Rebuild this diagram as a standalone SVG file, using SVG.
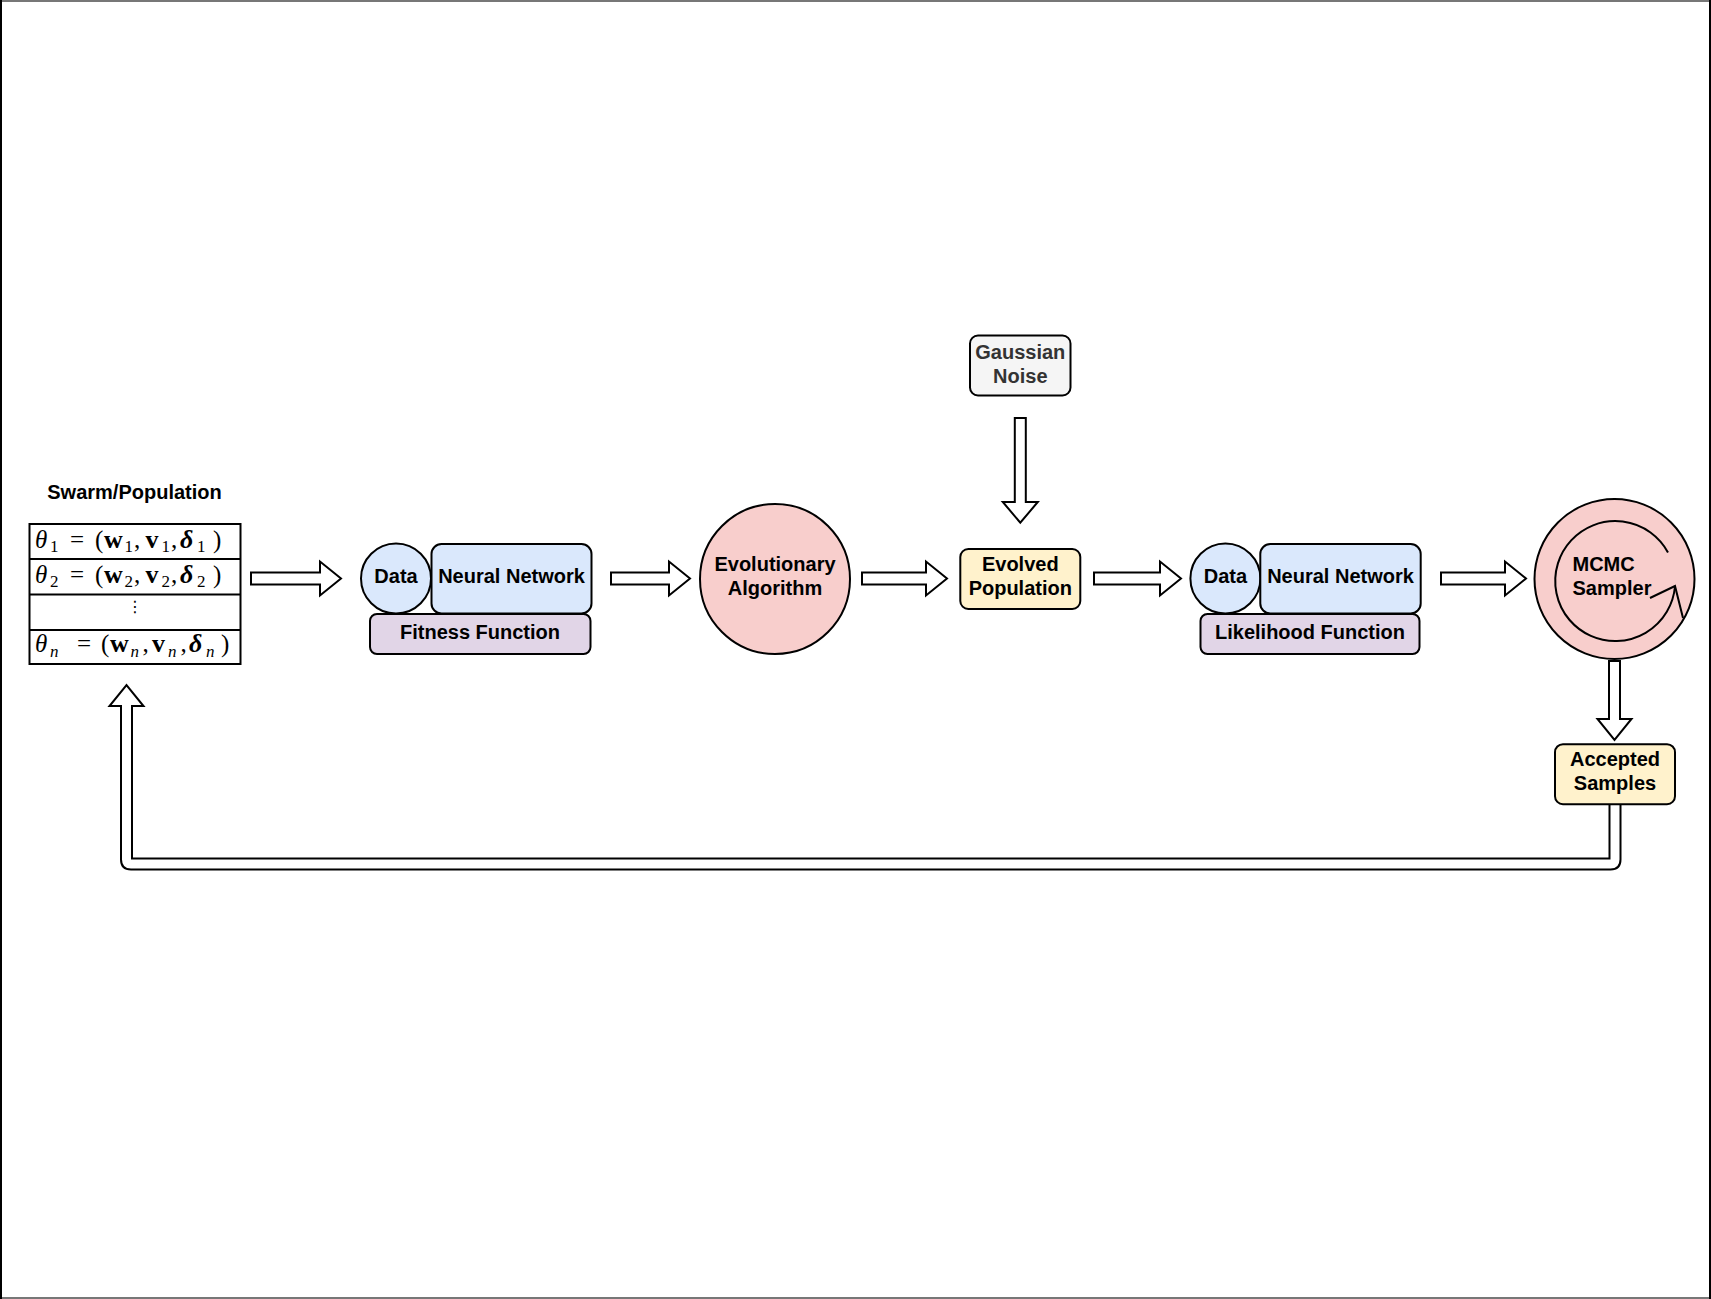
<svg xmlns="http://www.w3.org/2000/svg" width="1711" height="1299" viewBox="0 0 1711 1299">
<style>
.t{font-family:"Liberation Sans",Arial,Helvetica,sans-serif;font-size:20px;font-weight:bold;fill:#000;text-anchor:middle}
.ts{text-anchor:start}
.tg{fill:#333333}
.nd{stroke:#000;stroke-width:2}
.blue{fill:#dae8fc}
.purple{fill:#e1d5e7}
.pink{fill:#f8cecc}
.yellow{fill:#fff2cc}
.grey{fill:#f5f5f5}
.arr{fill:#fff;stroke:#000;stroke-width:2;stroke-linejoin:miter}
.ln{fill:none;stroke:#000;stroke-width:2}
.m{font-family:"Liberation Serif","Times New Roman",serif;font-size:25px;fill:#000}
.s{font-size:17px}
.b{font-weight:bold;font-size:26px}
.i{font-style:italic}
</style>
<rect x="0" y="0" width="1711" height="1299" fill="#fff"/>
<g id="frame">
<line x1="0" y1="1" x2="1711" y2="1" stroke="#777" stroke-width="2"/>
<line x1="0" y1="1298" x2="1711" y2="1298" stroke="#777" stroke-width="2"/>
<line x1="1" y1="0" x2="1" y2="1299" stroke="#000" stroke-width="2"/>
<line x1="1710" y1="0" x2="1710" y2="1299" stroke="#000" stroke-width="2"/>
</g>
<g id="connectors">
<path class="arr" d="M251 572.5 L320 572.5 L320 561.5 L341 578.5 L320 595.5 L320 584.5 L251 584.5 Z"/>
<path class="arr" d="M611 572.5 L669 572.5 L669 561.5 L690 578.5 L669 595.5 L669 584.5 L611 584.5 Z"/>
<path class="arr" d="M862 572.5 L926 572.5 L926 561.5 L947 578.5 L926 595.5 L926 584.5 L862 584.5 Z"/>
<path class="arr" d="M1094 572.5 L1160 572.5 L1160 561.5 L1181 578.5 L1160 595.5 L1160 584.5 L1094 584.5 Z"/>
<path class="arr" d="M1441 572.5 L1505 572.5 L1505 561.5 L1526 578.5 L1505 595.5 L1505 584.5 L1441 584.5 Z"/>
<path class="arr" d="M1014.8 418 L1014.8 502 L1002.8 502 L1020.3 522.7 L1037.8 502 L1025.8 502 L1025.8 418 Z"/>
<path class="arr" d="M1609 661 L1609 719 L1597.5 719 L1614.5 740 L1631.5 719 L1620 719 L1620 661 Z"/>
<path class="arr" d="M1620.5 800 L1620.5 859.5 Q1620.5 869.5 1610.5 869.5 L131 869.5 Q121 869.5 121 859.5 L121 706 L109.5 706 L126.5 685 L143.5 706 L132 706 L132 858.5 L1609.5 858.5 L1609.5 800"/>
</g>
<g id="swarm">
<text class="t" x="134.5" y="499">Swarm/Population</text>
<rect x="29.5" y="524" width="211" height="140" fill="#fff" stroke="#000" stroke-width="2"/>
<line x1="29.5" y1="559" x2="240.5" y2="559" stroke="#000" stroke-width="2"/>
<line x1="29.5" y1="594.5" x2="240.5" y2="594.5" stroke="#000" stroke-width="2"/>
<line x1="29.5" y1="630" x2="240.5" y2="630" stroke="#000" stroke-width="2"/>
<text class="m"><tspan class="i" x="35" y="547.5">θ</tspan><tspan class="s" x="50" y="552">1</tspan><tspan x="70" y="547.5">=</tspan><tspan x="95" y="547.5">(</tspan><tspan class="b" x="104" y="547.5">w</tspan><tspan class="s" x="124.5" y="552">1</tspan><tspan x="134" y="547.5">,</tspan><tspan class="b" x="145.5" y="547.5">v</tspan><tspan class="s" x="161.5" y="552">1</tspan><tspan x="171" y="547.5">,</tspan><tspan class="b i" x="180" y="547.5">δ</tspan><tspan class="s" x="197" y="552">1</tspan><tspan x="213" y="547.5">)</tspan></text>
<text class="m"><tspan class="i" x="35" y="582.5">θ</tspan><tspan class="s" x="50" y="587">2</tspan><tspan x="70" y="582.5">=</tspan><tspan x="95" y="582.5">(</tspan><tspan class="b" x="104" y="582.5">w</tspan><tspan class="s" x="124.5" y="587">2</tspan><tspan x="134" y="582.5">,</tspan><tspan class="b" x="145.5" y="582.5">v</tspan><tspan class="s" x="161.5" y="587">2</tspan><tspan x="171" y="582.5">,</tspan><tspan class="b i" x="180" y="582.5">δ</tspan><tspan class="s" x="197" y="587">2</tspan><tspan x="213" y="582.5">)</tspan></text>
<text x="135" y="612" font-family="DejaVu Sans,sans-serif" font-size="16" text-anchor="middle">⋮</text>
<text class="m"><tspan class="i" x="35" y="652">θ</tspan><tspan class="s i" x="50" y="656.5">n</tspan><tspan x="77" y="652">=</tspan><tspan x="101" y="652">(</tspan><tspan class="b" x="110" y="652">w</tspan><tspan class="s i" x="130.5" y="656.5">n</tspan><tspan x="142.5" y="652">,</tspan><tspan class="b" x="152" y="652">v</tspan><tspan class="s i" x="168" y="656.5">n</tspan><tspan x="180.5" y="652">,</tspan><tspan class="b i" x="189" y="652">δ</tspan><tspan class="s i" x="206" y="656.5">n</tspan><tspan x="221" y="652">)</tspan></text>
</g>
<g id="fitness">
<rect class="nd purple" x="370" y="614" width="220.5" height="40" rx="7"/>
<text class="t" x="480" y="638.5">Fitness Function</text>
</g>
<g id="data1">
<circle class="nd blue" cx="396" cy="578.5" r="35"/>
<text class="t" x="396" y="583">Data</text>
</g>
<g id="nn1">
<rect class="nd blue" x="431.5" y="544" width="160" height="69.5" rx="10"/>
<text class="t" x="511.5" y="583">Neural Network</text>
</g>
<g id="evolutionary">
<circle class="nd pink" cx="775" cy="579" r="75"/>
<text class="t" x="775" y="571">Evolutionary</text>
<text class="t" x="775" y="595">Algorithm</text>
</g>
<g id="gaussian">
<rect class="nd grey" x="970" y="335.5" width="100.5" height="60" rx="8"/>
<text class="t tg" x="1020.3" y="358.5">Gaussian</text>
<text class="t tg" x="1020.3" y="382.5">Noise</text>
</g>
<g id="evolved">
<rect class="nd yellow" x="960.3" y="549" width="120" height="60" rx="8"/>
<text class="t" x="1020.3" y="571">Evolved</text>
<text class="t" x="1020.3" y="595">Population</text>
</g>
<g id="likelihood">
<rect class="nd purple" x="1200.5" y="614" width="219" height="40" rx="7"/>
<text class="t" x="1310" y="638.5">Likelihood Function</text>
</g>
<g id="data2">
<circle class="nd blue" cx="1225.4" cy="578.5" r="35"/>
<text class="t" x="1225.4" y="583">Data</text>
</g>
<g id="nn2">
<rect class="nd blue" x="1260.3" y="544" width="160.4" height="69.5" rx="10"/>
<text class="t" x="1340.5" y="583">Neural Network</text>
</g>
<g id="mcmc">
<circle class="nd pink" cx="1614.5" cy="579" r="80"/>
<path class="ln" d="M1668 552.5 A60 60 0 1 0 1675 586.5"/>
<path class="ln" d="M1650 598 L1675 586 L1683 618"/>
<text class="t ts" x="1572.5" y="571">MCMC</text>
<text class="t ts" x="1572.5" y="595">Sampler</text>
</g>
<g id="accepted">
<rect class="nd yellow" x="1555" y="744.2" width="120" height="60" rx="8"/>
<text class="t" x="1615" y="766">Accepted</text>
<text class="t" x="1615" y="790">Samples</text>
</g>
</svg>
